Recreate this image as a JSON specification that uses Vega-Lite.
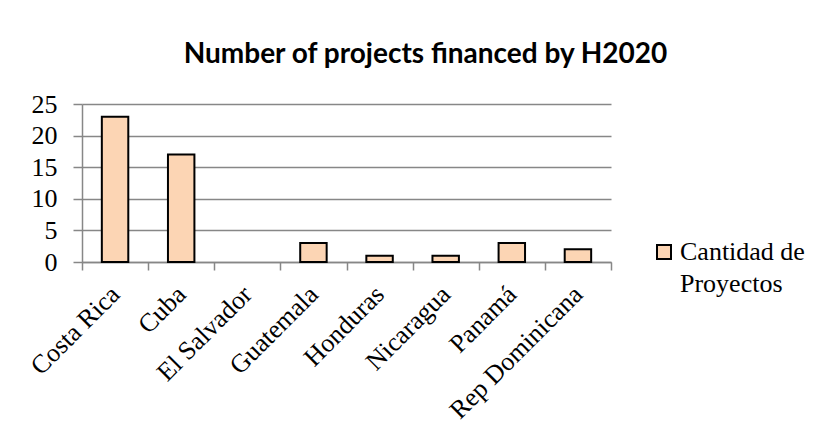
{
  "$schema": "https://vega.github.io/schema/vega-lite/v6.json",
  "autosize": {"type": "none"},
  "padding": {"left": 82, "top": 104, "right": 214, "bottom": 186},
  "width": 529,
  "height": 158,
  "background": "white",
  "title": {
    "text": "Number of projects financed by H2020",
    "font": "Lato",
    "fontSize": 28,
    "fontWeight": "bold",
    "color": "#000000",
    "anchor": "middle",
    "frame": "group",
    "dx": 79,
    "offset": 22
  },
  "data": {
    "values": [
      {"pais": "Costa Rica", "serie": "Cantidad de Proyectos", "proyectos": 23},
      {"pais": "Cuba", "serie": "Cantidad de Proyectos", "proyectos": 17},
      {"pais": "El Salvador", "serie": "Cantidad de Proyectos", "proyectos": 0},
      {"pais": "Guatemala", "serie": "Cantidad de Proyectos", "proyectos": 3},
      {"pais": "Honduras", "serie": "Cantidad de Proyectos", "proyectos": 1},
      {"pais": "Nicaragua", "serie": "Cantidad de Proyectos", "proyectos": 1},
      {"pais": "Panamá", "serie": "Cantidad de Proyectos", "proyectos": 3},
      {"pais": "Rep Dominicana", "serie": "Cantidad de Proyectos", "proyectos": 2}
    ]
  },
  "mark": {"type": "bar", "stroke": "#000000", "opacity": 1, "width": {"band": 0.4}},
  "encoding": {
    "x": {
      "field": "pais",
      "type": "nominal",
      "sort": null,
      "scale": {"paddingInner": 0, "paddingOuter": 0},
      "axis": {
        "title": null,
        "labelAngle": -45,
        "labelAlign": "right",
        "labelBaseline": "middle",
        "labelFont": "Liberation Serif",
        "labelFontSize": 26,
        "labelColor": "#000000",
        "labelPadding": 20,
        "labelLimit": 300,
        "tickBand": "extent",
        "tickSize": 8,
        "tickColor": "#878787",
        "tickWidth": 1.5,
        "domainColor": "#878787",
        "domainWidth": 1.5,
        "grid": false
      }
    },
    "y": {
      "field": "proyectos",
      "type": "quantitative",
      "scale": {"domain": [0, 25], "nice": false},
      "axis": {
        "title": null,
        "values": [0, 5, 10, 15, 20, 25],
        "labelFont": "Liberation Serif",
        "labelFontSize": 26,
        "labelColor": "#000000",
        "labelPadding": 16,
        "tickSize": 9,
        "tickColor": "#878787",
        "tickWidth": 1.5,
        "domainColor": "#878787",
        "domainWidth": 1.5,
        "grid": true,
        "gridColor": "#878787",
        "gridWidth": 1.5
      }
    },
    "strokeWidth": {
      "condition": {"test": "datum.proyectos == 0", "value": 0},
      "value": 2
    },
    "color": {
      "field": "serie",
      "type": "nominal",
      "scale": {"range": ["#FCD5B4"]},
      "legend": {
        "title": null,
        "orient": "none",
        "legendX": 569,
        "legendY": 135,
        "symbolType": "square",
        "symbolSize": 196,
        "symbolStrokeColor": "#000000",
        "symbolStrokeWidth": 2,
        "symbolFillColor": "#FCD5B4",
        "labelFont": "Liberation Serif",
        "labelFontSize": 26,
        "labelColor": "#000000",
        "labelOffset": 3,
        "labelLimit": 300,
        "labelBaseline": "middle",
        "labelExpr": "['Cantidad de', 'Proyectos']"
      }
    }
  },
  "config": {
    "view": {"stroke": null},
    "bar": {"fill": "#FCD5B4"},
    "style": {"guide-label": {"lineHeight": 32}}
  }
}
